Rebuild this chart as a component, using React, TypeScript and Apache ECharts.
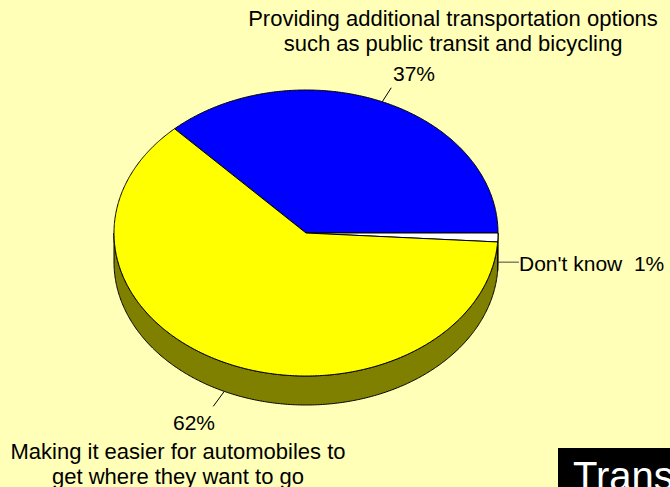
import React, { useEffect, useRef } from "react";
import * as echarts from "echarts";

// ---- data ----
const CATEGORIES = [
  "Providing additional transportation options\nsuch as public transit and bicycling",
  "Don't know",
  "Making it easier for automobiles to\nget where they want to go",
];
const VALUES = [37, 1, 62];
const BOX_TEXT = "Trans";

// ---- styles / layout ----
const TOP_COLORS = ["#0000FF", "#FFFFFF", "#FFFF00"];
const SIDE_COLORS = ["#000080", "#808080", "#808000"];
const BG = "#FFFFB8";
const FONT = "'Liberation Sans', Arial, Helvetica, sans-serif";
const W = 670;
const H = 487;
const CX = 306;
const CY = 233;
const RX = 192;
const RY = 143;
const DEPTH = 29;
const START_ANGLE = 133.2; // degrees, math orientation, slices go clockwise
// leader: [fraction of depth where it starts, dx, dy]
const LEADERS = [
  [0, 9, -14],
  [0.85, 21, 0],
  [1, -11, 15],
];

const total = VALUES.reduce((a, b) => a + b, 0);
const sliceAngles = (i: number) => {
  let before = 0;
  for (let k = 0; k < i; k++) before += VALUES[k];
  const start = START_ANGLE - (360 * before) / total;
  const end = start - (360 * VALUES[i]) / total;
  return [start, end];
};

const pt = (deg: number, dy = 0) => {
  const r = (deg * Math.PI) / 180;
  return [CX + RX * Math.cos(r), CY - RY * Math.sin(r) + dy];
};

const arc = (from: number, to: number, dy = 0) => {
  const pts: number[][] = [];
  const n = Math.max(2, Math.ceil(Math.abs(from - to) / 0.5));
  for (let s = 0; s <= n; s++) pts.push(pt(from + ((to - from) * s) / n, dy));
  return pts;
};

const pctLabel = (i: number) => `${VALUES[i]}%`;

export default function App() {
  const ref = useRef<HTMLDivElement>(null);
  useEffect(() => {
    if (!ref.current) return;
    const chart = echarts.init(ref.current, undefined, { renderer: "svg" });

    const renderItem = (params: any, api: any) => {
      const i = params.dataIndex;
      const [start, end] = sliceAngles(i);
      const children: any[] = [];
      // front side faces
      for (let k = -2; k <= 1; k++) {
        const fLo = -180 + 360 * k;
        const fHi = 360 * k;
        const lo = Math.max(end, fLo);
        const hi = Math.min(start, fHi);
        if (hi - lo > 0.01) {
          const pts = [...arc(hi, lo, 0), ...arc(lo, hi, DEPTH)];
          children.push({
            type: "polygon",
            shape: { points: pts },
            style: { fill: SIDE_COLORS[i], stroke: "#000", lineWidth: 1 },
            z2: 1,
          });
        }
      }
      // top face
      children.push({
        type: "polygon",
        shape: { points: [[CX, CY], ...arc(start, end, 0)] },
        style: { fill: TOP_COLORS[i], stroke: "#000", lineWidth: 1, lineJoin: "round" },
        z2: 2,
      });
      // leader line
      const mid = (start + end) / 2;
      const [frac, dx, dy] = LEADERS[i];
      const p = pt(mid, DEPTH * frac);
      children.push({
        type: "line",
        shape: { x1: p[0], y1: p[1], x2: p[0] + dx, y2: p[1] + dy },
        style: { stroke: i === 1 ? "#444" : "#000", lineWidth: 1 },
        z2: 3,
      });
      return { type: "group", children };
    };

    const txt = (text: string, x: number, y: number, align: string, size = 21, fill = "#000", lh = 25) => ({
      type: "text",
      x,
      y,
      silent: true,
      style: {
        text,
        fill,
        fontSize: size,
        fontFamily: FONT,
        lineHeight: lh,
        align,
        textAlign: align,
        verticalAlign: "middle",
        textVerticalAlign: "middle",
      },
    });

    chart.setOption({
      animation: false,
      backgroundColor: BG,
      series: [
        {
          type: "custom",
          coordinateSystem: "none",
          renderItem,
          data: VALUES.map((v, i) => ({ name: CATEGORIES[i], value: [v] })),
          silent: true,
        },
      ],
      graphic: [
        txt(CATEGORIES[0], 453, 31, "center", 22),
        txt(pctLabel(0), 414, 73, "center", 21),
        txt(`${CATEGORIES[1]}  ${pctLabel(1)}`, 519, 263, "left", 21),
        txt(pctLabel(2), 194, 422, "center", 21),
        txt(CATEGORIES[2], 178, 464, "center", 22),
        {
          type: "rect",
          shape: { x: 558, y: 448, width: 120, height: 50 },
          style: { fill: "#000" },
          silent: true,
        },
        txt(BOX_TEXT, 573, 476, "left", 40, "#FFF", 44),
      ],
    });
    return () => chart.dispose();
  }, []);

  return (
    <div
      ref={ref}
      style={{ position: "absolute", left: 0, top: 0, width: W, height: H, background: BG }}
    />
  );
}
